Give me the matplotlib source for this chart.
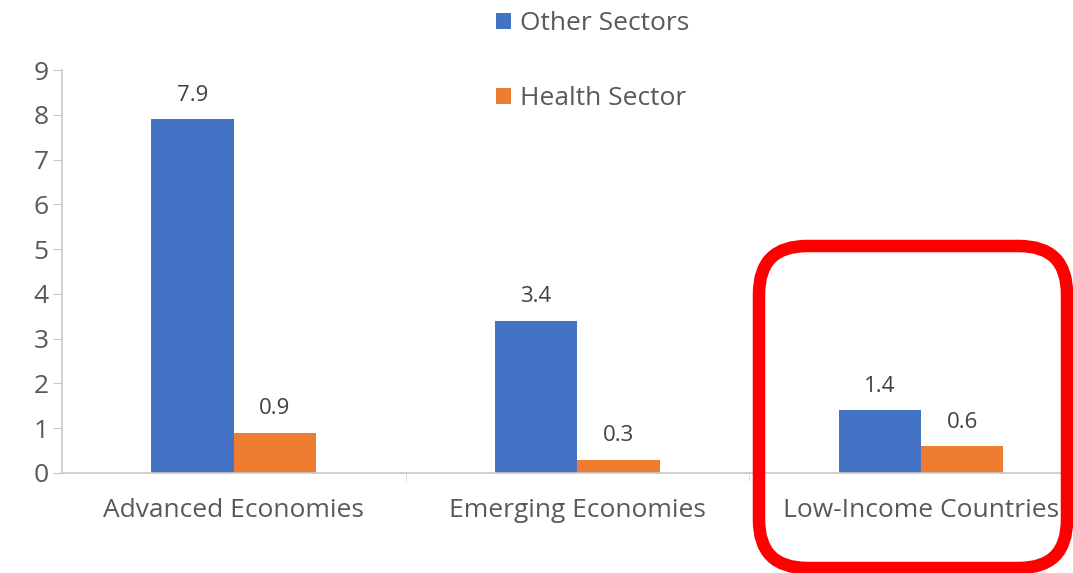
import matplotlib.pyplot as plt
from matplotlib.patches import FancyBboxPatch
from matplotlib.transforms import IdentityTransform

categories = ["Advanced Economies", "Emerging Economies", "Low-Income Countries"]
other_sectors = [7.9, 3.4, 1.4]
health_sector = [0.9, 0.3, 0.6]

plt.rcParams['font.family'] = ['Open Sans', 'DejaVu Sans']

fig = plt.figure(figsize=(10.73, 5.73), dpi=100)
ax = fig.add_axes([62 / 1073, 100 / 573, 1 - 62 / 1073, (473 - 70) / 573])

x = list(range(len(categories)))
w = 0.24
b1 = ax.bar([i - w / 2 for i in x], other_sectors, w, color="#4472C4", label="Other Sectors")
b2 = ax.bar([i + w / 2 for i in x], health_sector, w, color="#ED7D31", label="Health Sector")

for bars, vals in ((b1, other_sectors), (b2, health_sector)):
    for r, v in zip(bars, vals):
        ax.text(r.get_x() + r.get_width() / 2, v + 0.3, f"{v:.1f}",
                ha="center", va="bottom", fontsize=16, color="#404040")

ax.set_xlim(-0.5, 2.4425)
ax.set_ylim(0, 9)
ax.set_yticks(range(10))
ax.set_xticks(x)
ax.set_xticklabels(categories)
ax.set_xticks([0.5, 1.5], minor=True)

for s in ("top", "right"):
    ax.spines[s].set_visible(False)
for s in ("left", "bottom"):
    ax.spines[s].set_color("#C8C8C8")
    ax.spines[s].set_linewidth(1.2)

ax.tick_params(axis="y", labelsize=19, colors="#595959", length=6.5, color="#C8C8C8", pad=3)
ax.tick_params(axis="x", which="major", labelsize=19, colors="#595959", length=0, pad=18)
ax.tick_params(axis="x", which="minor", length=6, color="#D9D9D9")

ax.legend(loc="upper left", bbox_to_anchor=(483 / 1073, 1.004), bbox_transform=fig.transFigure,
          frameon=False, fontsize=19, labelcolor="#595959", handlelength=0.55, handleheight=0.55,
          handletextpad=0.35, labelspacing=1.9, borderaxespad=0.1)

# red highlight box around the low-income group (pixel coords, figure saved at 100 dpi)
box = FancyBboxPatch((759, 5), 308, 322,
                     boxstyle="round,pad=0,rounding_size=48", transform=IdentityTransform(),
                     fill=False, edgecolor="#FF0000", linewidth=9)
fig.patches.append(box)

fig.savefig("out.png", dpi=100)
